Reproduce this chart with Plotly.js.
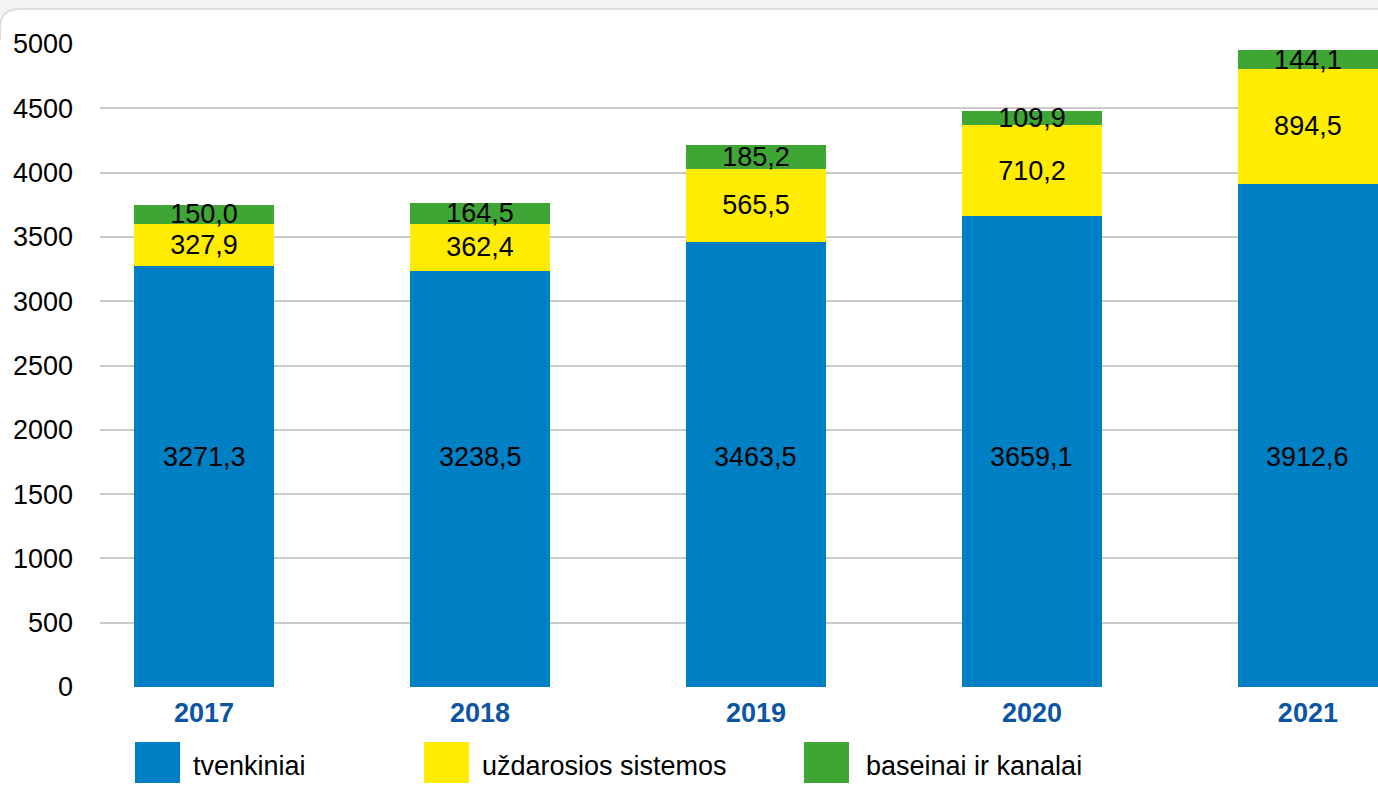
<!DOCTYPE html>
<html>
<head>
<meta charset="utf-8">
<script src="https://cdn.plot.ly/plotly-3.0.1.min.js"></script>
<style>
html,body{margin:0;padding:0;background:#fff;}
#chart{width:1378px;height:788px;}
</style>
</head>
<body>
<div id="chart"></div>
<script>
// ---- data ----
const years = ['2017', '2018', '2019', '2020', '2021'];
const tvenkiniai = [3271.3, 3238.5, 3463.5, 3659.1, 3912.6];
const uzdarosiosSistemos = [327.9, 362.4, 565.5, 710.2, 894.5];
const baseinaiIrKanalai = [150.0, 164.5, 185.2, 109.9, 144.1];
const seriesNames = ['tvenkiniai', 'uždarosios sistemos', 'baseinai ir kanalai'];
const seriesColors = ['#0080C4', '#FFEC00', '#3FA535'];
const yTicks = [0, 500, 1000, 1500, 2000, 2500, 3000, 3500, 4000, 4500, 5000];

// ---- helpers ----
const fmt = v => v.toFixed(1).replace('.', ',');
const W = 1378, H = 788;
const M = {l: 100, r: 0, t: 44, b: 101};
const pw = W - M.l - M.r, ph = H - M.t - M.b;
const px2x = p => (p - M.l) / pw;
const px2y = p => (H - M.b - p) / ph;
const FONT = 'Liberation Sans, Arial, sans-serif';
const FS = 27;
const BLUE_LABEL_Y = 1790;

const barWidth = 0.507;
const traces = [
  {type: 'bar', x: years, y: tvenkiniai, name: seriesNames[0],
   marker: {color: seriesColors[0]}, width: barWidth, hoverinfo: 'y+name'},
  {type: 'bar', x: years, y: uzdarosiosSistemos, name: seriesNames[1],
   marker: {color: seriesColors[1]}, width: barWidth,
   text: uzdarosiosSistemos.map(fmt), textposition: 'inside',
   insidetextanchor: 'middle', constraintext: 'none',
   textfont: {size: FS, color: '#000', family: FONT}, hoverinfo: 'y+name'},
  {type: 'bar', x: years, y: baseinaiIrKanalai, name: seriesNames[2],
   marker: {color: seriesColors[2]}, width: barWidth,
   text: baseinaiIrKanalai.map(fmt), textposition: 'inside',
   insidetextanchor: 'middle', constraintext: 'none',
   textfont: {size: FS, color: '#000', family: FONT}, hoverinfo: 'y+name'}
];

// labels of the blue segments (drawn at a common height, as in the original)
const annotations = years.map((yr, i) => ({
  x: i, y: BLUE_LABEL_Y, xref: 'x', yref: 'y', text: fmt(tvenkiniai[i]),
  showarrow: false, font: {size: FS, color: '#000', family: FONT},
  xanchor: 'center', yanchor: 'middle'
}));

// custom legend (large squares)
const legendSquares = [135, 424, 804];
const legendTexts = [193, 482, 866];
const shapes = [];
seriesNames.forEach((nm, i) => {
  shapes.push({type: 'rect', xref: 'paper', yref: 'paper',
    x0: px2x(legendSquares[i]), x1: px2x(legendSquares[i] + 45),
    y0: px2y(783), y1: px2y(742),
    fillcolor: seriesColors[i], line: {width: 0}});
  annotations.push({xref: 'paper', yref: 'paper', x: px2x(legendTexts[i] - 2), y: px2y(766),
    xanchor: 'left', yanchor: 'middle', showarrow: false, text: nm,
    font: {size: FS, color: '#000', family: FONT}});
});

// decorative panel top edge
shapes.push({type: 'rect', xref: 'paper', yref: 'paper', layer: 'below',
  x0: px2x(0), x1: px2x(W), y0: px2y(9), y1: px2y(0),
  fillcolor: '#f3f3f3', line: {width: 0}});
shapes.push({type: 'path', xref: 'paper', yref: 'paper', layer: 'below',
  path: `M ${px2x(0)},${px2y(0)} L ${px2x(0)},${px2y(28)} Q ${px2x(0)},${px2y(9)} ${px2x(20)},${px2y(9)} L ${px2x(0)},${px2y(9)} Z`,
  fillcolor: '#f3f3f3', line: {width: 0}});
shapes.push({type: 'path', xref: 'paper', yref: 'paper', layer: 'below',
  path: `M ${px2x(0)},${px2y(40)} L ${px2x(0)},${px2y(28)} Q ${px2x(0)},${px2y(9)} ${px2x(20)},${px2y(9)} L ${px2x(W)},${px2y(9)}`,
  line: {color: '#dedede', width: 2}});

const layout = {
  width: W, height: H,
  margin: M,
  barmode: 'stack',
  showlegend: false,
  paper_bgcolor: '#ffffff',
  plot_bgcolor: '#ffffff',
  font: {family: FONT, size: FS, color: '#000'},
  xaxis: {
    type: 'category', categoryorder: 'array', categoryarray: years,
    range: [-0.377, 4.254], showgrid: false, zeroline: false, showline: false,
    ticks: '', ticklabelstandoff: 7,
    tickfont: {size: FS, color: '#0B55A3', family: FONT, weight: 'bold'}
  },
  yaxis: {
    range: [0, 5000], tickmode: 'array', tickvals: yTicks,
    ticktext: yTicks.map(String),
    showgrid: true, gridcolor: '#cacaca', gridwidth: 2,
    zeroline: false, showline: false, ticks: '',
    ticklabelstandoff: 26,
    tickfont: {size: FS, color: '#000', family: FONT}
  },
  annotations: annotations,
  shapes: shapes
};

Plotly.newPlot('chart', traces, layout, {displayModeBar: false, staticPlot: true});
</script>
</body>
</html>
